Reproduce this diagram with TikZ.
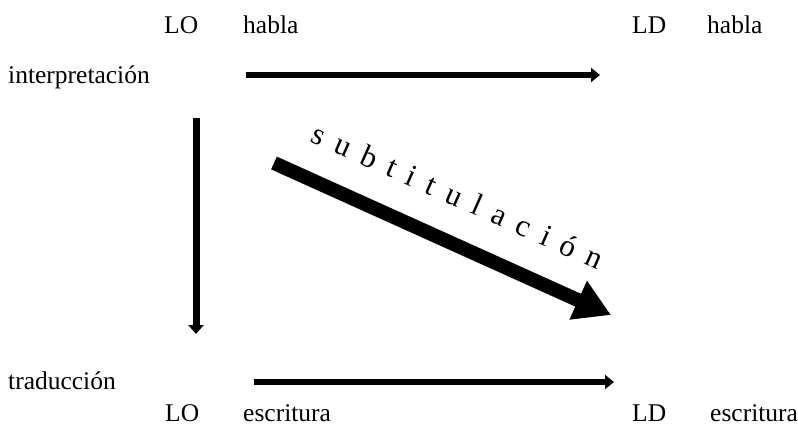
\documentclass[tikz,border=0pt]{standalone}
\usepackage{fontspec}
\setmainfont{Liberation Serif}
\usetikzlibrary{arrows.meta}
\begin{document}
\begin{tikzpicture}[x=1pt,y=-1pt,
  lbl/.style={font=\fontsize{25.5}{28}\selectfont, inner sep=0pt, anchor=west},
  thin arrow/.style={line width=6.5pt, -{Triangle[length=9pt,width=14pt]}},
  big arrow/.style={line width=14pt, -{Triangle[length=36pt,width=40pt]}}]
\useasboundingbox[fill=white] (0,0) rectangle (798,437);
% top labels
\node[lbl] (lo1) at (164,25) {LO};
\node[lbl] (ha1) at (243,25) {habla};
\node[lbl] (ld1) at (632,25) {LD};
\node[lbl] (ha2) at (707,25) {habla};
\node[lbl] (interp) at (8,77) {interpretación};
% bottom labels
\node[lbl] (trad) at (8,381) {traducción};
\node[lbl] (lo2) at (165,413) {LO};
\node[lbl] (es1) at (243,413) {escritura};
\node[lbl] (ld2) at (632,413) {LD};
\node[lbl] (es2) at (710,413) {escritura};
% arrow end points
\coordinate (a1s) at (246,75);
\coordinate (a1e) at (600,75);
\coordinate (a2s) at (196,118);
\coordinate (a2e) at (196,334);
\coordinate (a3s) at (254,382);
\coordinate (a3e) at (614,382);
\coordinate (a4s) at (274,163);
\coordinate (a4e) at (611,315);
\draw[thin arrow] (a1s) -- (a1e);
\draw[line width=7pt, -{Triangle[length=9pt,width=15pt]}] (a2s) -- (a2e);
\draw[thin arrow] (a3s) -- (a3e);
\draw[big arrow] (a4s) -- (a4e);
% subtitulacion
\node[font=\fontsize{31}{34}\selectfont, inner sep=0pt, rotate=-24] (sub) at (458,196)
  {s\hspace{13pt}u\hspace{13pt}b\hspace{13pt}t\hspace{13pt}i\hspace{13pt}t\hspace{13pt}u\hspace{13pt}l\hspace{13pt}a\hspace{13pt}c\hspace{13pt}i\hspace{13pt}ó\hspace{13pt}n};
\end{tikzpicture}
\end{document}
